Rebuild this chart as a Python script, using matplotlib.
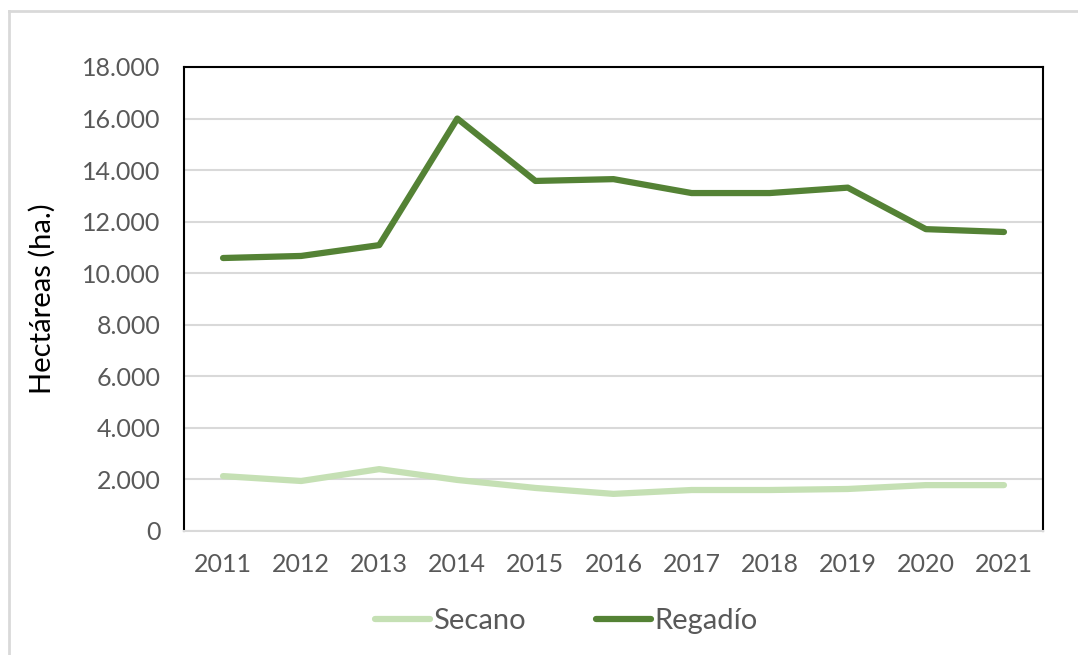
import matplotlib.pyplot as plt
from matplotlib.ticker import FuncFormatter
from matplotlib.lines import Line2D

# Data
years = ['2011', '2012', '2013', '2014', '2015', '2016', '2017', '2018', '2019', '2020', '2021']
secano = [2130, 1940, 2400, 1980, 1670, 1440, 1590, 1590, 1630, 1780, 1780]
regadio = [10590, 10670, 11090, 16000, 13580, 13650, 13110, 13110, 13320, 11710, 11600]

plt.rcParams['font.family'] = ['Lato', 'DejaVu Sans']

fig = plt.figure(figsize=(10.78, 6.55), dpi=100)
ax = fig.add_axes([184 / 1078, 124 / 655, 859 / 1078, 464 / 655])

x = range(len(years))
ax.plot(x, secano, color='#c5e0b4', lw=4.5, solid_capstyle='round', label='Secano')
ax.plot(x, regadio, color='#548235', lw=4.5, solid_capstyle='round', label='Regadío')

ax.set_xlim(-0.5, len(years) - 0.5)
ax.set_ylim(0, 18000)
ax.set_yticks(range(0, 18001, 2000))
ax.yaxis.set_major_formatter(FuncFormatter(lambda v, p: f'{int(v):,}'.replace(',', '.')))
ax.set_xticks(list(x))
ax.set_xticklabels(years)
ax.grid(axis='y', color='#d9d9d9', lw=1.5)
ax.set_axisbelow(True)
ax.tick_params(length=0, labelsize=18, labelcolor='#595959')
ax.tick_params(axis='x', pad=16)
ax.tick_params(axis='y', pad=17)

for s in ['left', 'top', 'right']:
    ax.spines[s].set_color('black')
    ax.spines[s].set_linewidth(1.5)
ax.spines['bottom'].set_color('#d9d9d9')
ax.spines['bottom'].set_linewidth(1.5)

ax.set_ylabel('Hectáreas (ha.)', fontsize=21, color='black', labelpad=19)

handles = [Line2D([], [], color='#c5e0b4', lw=4.5, solid_capstyle='round'),
           Line2D([], [], color='#548235', lw=4.5, solid_capstyle='round')]
fig.legend(handles, ['Secano', 'Regadío'], loc='center', bbox_to_anchor=(0.525, 0.052),
           ncol=2, frameon=False, fontsize=21, labelcolor='#595959',
           handlelength=1.9, handletextpad=0.1, columnspacing=2.4)

# light grey chart border (only left and top visible)
fig.add_artist(Line2D([9 / 1078, 9 / 1078], [0, 1 - 11 / 655], color='#d9d9d9', lw=2, transform=fig.transFigure))
fig.add_artist(Line2D([9 / 1078, 1], [1 - 11 / 655, 1 - 11 / 655], color='#d9d9d9', lw=2, transform=fig.transFigure))

fig.savefig('out.png', dpi=100)
